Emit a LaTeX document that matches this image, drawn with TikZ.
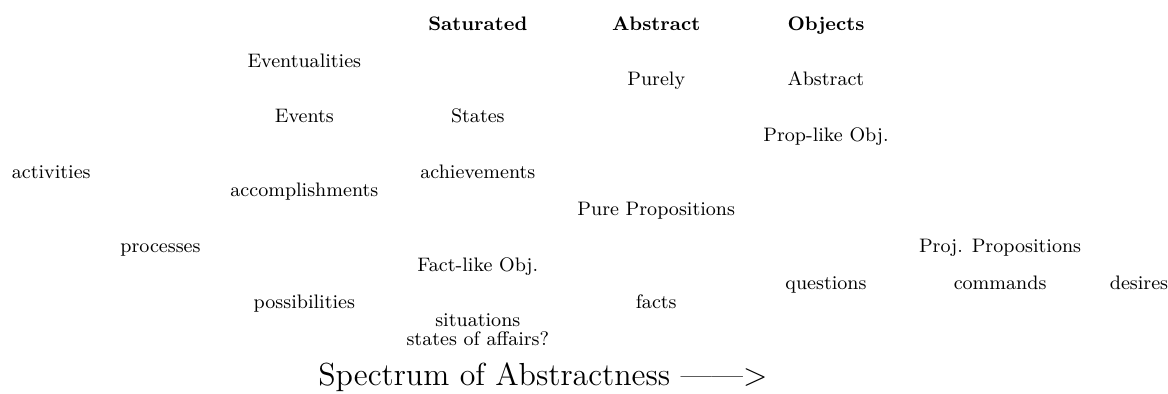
\documentclass[tikz,border=0pt]{standalone}
\usepackage{tikz}
\tikzset{lbl/.style={font=\small,anchor=base,inner sep=0pt},
  hdr/.style={lbl,font=\small\bfseries}}

\begin{document}
\begin{tikzpicture}[scale=1]
    \useasboundingbox (0,0) rectangle (18.92,6.38);
    \node[hdr] (sat) at (7.74,5.89) {Saturated};
    \node[hdr] (abs) at (10.63,5.89) {Abstract};
    \node[hdr] (obj) at (13.38,5.89) {Objects};
    \node[lbl] (eventual) at (4.93,5.29) {Eventualities};
    \node[lbl] (purely) at (10.63,4.99) {Purely};
    \node[lbl] (abstr) at (13.38,4.99) {Abstract};
    \node[lbl] (events) at (4.93,4.39) {Events};
    \node[lbl] (states) at (7.74,4.39) {States};
    \node[lbl] (proplike) at (13.38,4.09) {Prop-like Obj.};
    \node[lbl] (activ) at (0.83,3.49) {activities};
    \node[lbl] (achiev) at (7.74,3.49) {achievements};
    \node[lbl] (accomp) at (4.93,3.19) {accomplishments};
    \node[lbl] (pureprop) at (10.63,2.89) {Pure Propositions};
    \node[lbl] (proc) at (2.6,2.29) {processes};
    \node[lbl] (projprop) at (16.2,2.29) {Proj. Propositions};
    \node[lbl] (factlike) at (7.74,1.99) {Fact-like Obj.};
    \node[lbl] (quest) at (13.38,1.69) {questions};
    \node[lbl] (comm) at (16.2,1.69) {commands};
    \node[lbl] (des) at (18.45,1.69) {desires};
    \node[lbl] (poss) at (4.93,1.39) {possibilities};
    \node[lbl] (facts) at (10.63,1.39) {facts};
    \node[lbl] (situ) at (7.74,1.09) {situations};
    \node[lbl] (soa) at (7.74,0.79) {states of affairs?};
    \node[lbl,font=\fontsize{14.7}{18}\selectfont,anchor=base west] (spec) at (5.15,0.14) {Spectrum of Abstractness ------>};
  \end{tikzpicture}
\end{document}
